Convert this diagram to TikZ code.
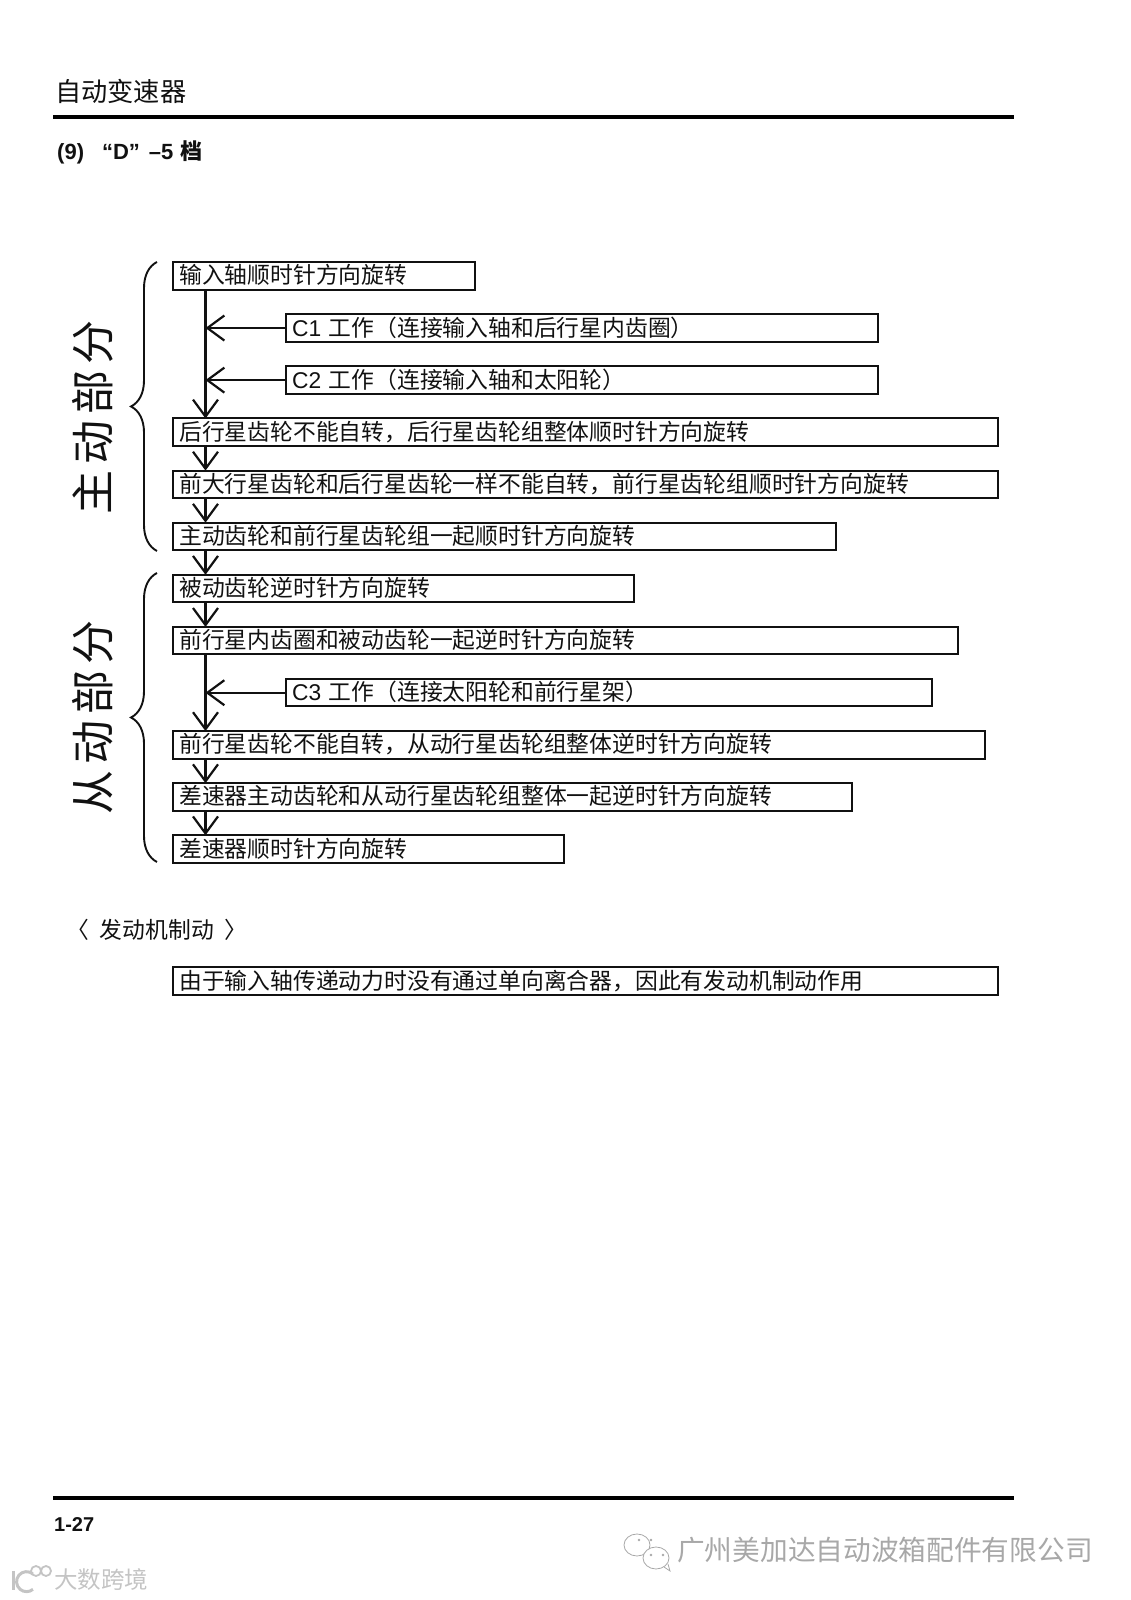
\documentclass[tikz,border=0pt]{standalone}
\usepackage{fontspec}
\setmainfont{Noto Sans CJK SC}
\newfontfamily\latinfont{Liberation Sans}
\newfontfamily\sidefont[LetterSpace=14]{Noto Sans CJK SC}
\usetikzlibrary{arrows.meta,positioning,decorations.pathreplacing}
\definecolor{inkBlack}{HTML}{111111}
\definecolor{markGray}{HTML}{A8A8A8}
\definecolor{paleGray}{HTML}{C4C4C4}
\tikzset{
    flowbox/.style={
        rectangle,
        draw=inkBlack,
        line width=2pt,
        outer sep=0pt,
        inner xsep=6pt,
        inner ysep=0pt,
        align=left,
        text=inkBlack,
        font=\fontsize{22.8}{24}\selectfont,
        text width=#1,
        text height=17pt,
        text depth=1pt,
        minimum height=27.5pt
    },
    arrow/.style={-{Straight Barb[length=17pt,width=25pt,line width=2.2pt]},line width=2.2pt,draw=inkBlack},
    bracket/.style={draw=inkBlack,line width=1.9pt,decorate,decoration={brace,amplitude=26pt}},
    sidelabel/.style={
        rotate=90,
        inner sep=0pt,
        text=inkBlack,
        font=\sidefont\fontsize{44}{44}\selectfont,
        text height=35pt,
        text depth=2pt
    },
    pagetext/.style={
        anchor=west,
        inner sep=0pt,
        text=inkBlack,
        font=\fontsize{#1}{#1}\selectfont,
        text height=0.8*#1pt,
        text depth=0.04*#1pt
    },
    pagerule/.style={draw=black,line width=4.6pt}
}

\begin{document}
\begin{tikzpicture}[x=1pt,y=1pt,node distance=24.6pt]
    \useasboundingbox (0,0) rectangle (1131,1600);

    \node[pagetext=26.2] (header) at (55,1508) {自动变速器};
    \draw[pagerule] (53,1483) -- (1014,1483);
    \node[pagetext=22] (title) at (57,1449)
        {\latinfont\bfseries (9)\hspace{18pt}“D”\hspace{9pt}–5\hspace{7pt}\normalfont\bfseries 档};

    \node[flowbox=290pt, anchor=north west] (input) at (173.2,1337.8) {输入轴顺时针方向旋转};
    \node[flowbox=580pt, below right=24.6pt and 113pt of input.south west, anchor=north west] (c1)
        {{\latinfont C1} 工作（连接输入轴和后行星内齿圈）};
    \node[flowbox=580pt, below=of c1.south west, anchor=north west] (c2)
        {{\latinfont C2} 工作（连接输入轴和太阳轮）};
    \node[flowbox=813pt, below=128.8pt of input.south west, anchor=north west] (rear)
        {后行星齿轮不能自转，后行星齿轮组整体顺时针方向旋转};
    \node[flowbox=813pt, below=of rear.south west, anchor=north west] (front)
        {前大行星齿轮和后行星齿轮一样不能自转，前行星齿轮组顺时针方向旋转};
    \node[flowbox=651pt, below=of front.south west, anchor=north west] (drive)
        {主动齿轮和前行星齿轮组一起顺时针方向旋转};
    \node[flowbox=449pt, below=of drive.south west, anchor=north west] (driven)
        {被动齿轮逆时针方向旋转};
    \node[flowbox=773pt, below=of driven.south west, anchor=north west] (ring)
        {前行星内齿圈和被动齿轮一起逆时针方向旋转};
    \node[flowbox=634pt, below right=24.6pt and 113pt of ring.south west, anchor=north west] (c3)
        {{\latinfont C3} 工作（连接太阳轮和前行星架）};
    \node[flowbox=800pt, below=76.7pt of ring.south west, anchor=north west] (pinion)
        {前行星齿轮不能自转，从动行星齿轮组整体逆时针方向旋转};
    \node[flowbox=667pt, below=of pinion.south west, anchor=north west] (diffgear)
        {差速器主动齿轮和从动行星齿轮组整体一起逆时针方向旋转};
    \node[flowbox=379pt, below=of diffgear.south west, anchor=north west] (diff)
        {差速器顺时针方向旋转};

    \node[pagetext=22.8] (brakehead) at (66,670)
        {〈\hspace{11pt}发动机制动\hspace{10pt}〉};
    \node[flowbox=813pt, below=104.5pt of diff.south west, anchor=north west] (brake)
        {由于输入轴传递动力时没有通过单向离合器，因此有发动机制动作用};

    % left side
    \node[sidelabel] (drivepart) at (92.5,1182.5) {主动部分};
    \node[sidelabel] (drivenpart) at (92.5,882.5) {从动部分};
    \draw[bracket] (157,1049) -- (157,1338);
    \draw[bracket] (157,738) -- (157,1027);

    \coordinate (axis) at (205.5,0);
    \draw[arrow] (input.south -| axis) -- (rear.north -| axis);
    \draw[arrow] (c1.west) -- (c1.west -| axis);
    \draw[arrow] (c2.west) -- (c2.west -| axis);
    \draw[arrow] (rear.south -| axis) -- (front.north -| axis);
    \draw[arrow] (front.south -| axis) -- (drive.north -| axis);
    \draw[arrow] (drive.south -| axis) -- (driven.north -| axis);
    \draw[arrow] (driven.south -| axis) -- (ring.north -| axis);
    \draw[arrow] (ring.south -| axis) -- (pinion.north -| axis);
    \draw[arrow] (c3.west) -- (c3.west -| axis);
    \draw[arrow] (pinion.south -| axis) -- (diffgear.north -| axis);
    \draw[arrow] (diffgear.south -| axis) -- (diff.north -| axis);

    % footer
    \draw[pagerule] (53,102) -- (1014,102);
    \node[pagetext=20] (pageno) at (54,76) {\latinfont\bfseries 1-27};
    \node[pagetext=27.7, text=markGray] (company) at (677,50) {广州美加达自动波箱配件有限公司};
    \node[pagetext=23.5, text=paleGray] (brandmark) at (54,20) {大数跨境};

    \draw[markGray, line width=0.8pt] (637,1600-1545) ellipse (13 and 11);
    \draw[markGray, line width=0.8pt, fill=white] (656,1600-1558) ellipse (13 and 11);
    \draw[markGray, line width=0.8pt] (664,1600-1567) -- (670,1600-1571) -- (668,1600-1564);
    \foreach \eyeX/\eyeY in {639/1540,651/1540,651/1555,663/1555}
        \fill[markGray] (\eyeX,1600-\eyeY) circle (1.4);

    \draw[paleGray, line width=3pt] (13,1600-1571) -- (13,1600-1590);
    \draw[paleGray, line width=3pt] (33,1600-1574) arc (50:310:10);
    \draw[paleGray, line width=1.8pt] (36,1600-1571) circle (5);
    \draw[paleGray, line width=1.8pt] (46,1600-1571) circle (5);
\end{tikzpicture}
\end{document}
